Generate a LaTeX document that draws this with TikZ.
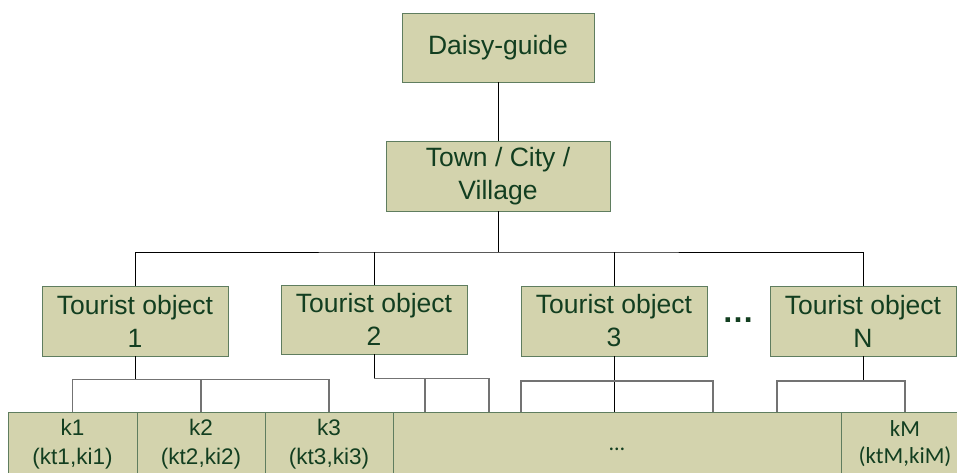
\documentclass[tikz,border=0pt]{standalone}
\usepackage{fontspec}
\setmainfont{Liberation Sans}
\newfontfamily\calfont{Carlito}
\usetikzlibrary{positioning}

\definecolor{boxfill}{RGB}{211,211,173}
\definecolor{boxline}{RGB}{95,125,95}
\definecolor{boxtext}{RGB}{18,62,32}
\definecolor{linkgray}{RGB}{115,115,115}

\tikzset{
  topbox/.style={draw=boxline,fill=boxfill,text=boxtext,align=center,inner sep=0pt,
    minimum width=186pt,minimum height=70pt,font=\fontsize{26.5}{33}\selectfont},
  cell/.style={draw=boxline,fill=boxfill,text=boxtext,align=center,inner sep=0pt,
    minimum width=128pt,minimum height=64pt,font=\fontsize{22.5}{29}\selectfont},
  link/.style={black,line width=1pt},
  sublink/.style={linkgray,line width=1.3pt}
}

\begin{document}
\begin{tikzpicture}[x=1pt,y=-1pt]

    \useasboundingbox (0,0) rectangle (957,472);
    \clip (0,0) rectangle (957,472);

    % upper levels
    \node[topbox,minimum width=192pt,minimum height=69pt] (guide) at (498,47.5) {Daisy-guide};
    \node[topbox,minimum width=224pt] (town) at (498,176) {Town / City /\\Village};

    \node[topbox] (obj1) at (135,321) {Tourist object\\1};
    \node[topbox,minimum height=69pt] (obj2) at (374,319.5) {Tourist object\\2};
    \node[topbox] (obj3) at (614,321) {Tourist object\\3};
    \node[topbox] (objN) at (863,321) {Tourist object\\N};
    \node[text=boxtext,font=\bfseries\fontsize{32}{40}\selectfont] (objdots) at (738,320) {…};

    % keyword row
    \node[cell,minimum width=129pt] (k1) at (72.5,444) {k1\\(kt1,ki1)};
    \node[cell] (k2) at (201,444) {k2\\(kt2,ki2)};
    \node[cell] (k3) at (329,444) {k3\\(kt3,ki3)};
    \node[cell,minimum width=448pt,font=\calfont\fontsize{22}{27}\selectfont] (kdots) at (617,444) {\raisebox{-6pt}[0pt][0pt]{…}};
    \node[cell,font=\calfont\fontsize{23}{27}\selectfont] (kM) at (905,444) {kM\\(ktM,kiM)};

    \coordinate (topbar) at (498,252);
    \coordinate (d1) at (425,412);
    \coordinate (d2) at (489,412);
    \coordinate (d3) at (521,412);
    \coordinate (d4) at (713,412);
    \coordinate (d5) at (777,412);

    \draw[link] (guide) -- (town);
    \draw[link] (town) -- (topbar);
    \draw[link] (obj1.north) |- (topbar) -| (objN.north);
    \draw[link] (obj2.north) -- (obj2.north |- topbar);
    \draw[link] (obj3.north) -- (obj3.north |- topbar);

    % object 1
    \draw[link] (obj1.south) -- ++(0,24);
    \draw[sublink] (k1.north) -- ++(0,-32) -| (k3.north);
    \draw[sublink] (k2.north) -- ++(0,-32);

    % object 2
    \draw[link] (obj2.south) -- ++(0,24);
    \draw[sublink] (obj2.south) ++(0,24) -| (d2);
    \draw[sublink] (d1) -- ++(0,-34);

    % object 3
    \draw[link] (obj3.south) -- (obj3.south |- kdots.north);
    \draw[sublink] (d3) -- ++(0,-31) -| (d4);

    % object N
    \draw[link] (objN.south) -- ++(0,25);
    \draw[sublink] (d5) -- ++(0,-31) -| (kM.north);

\end{tikzpicture}
\end{document}
